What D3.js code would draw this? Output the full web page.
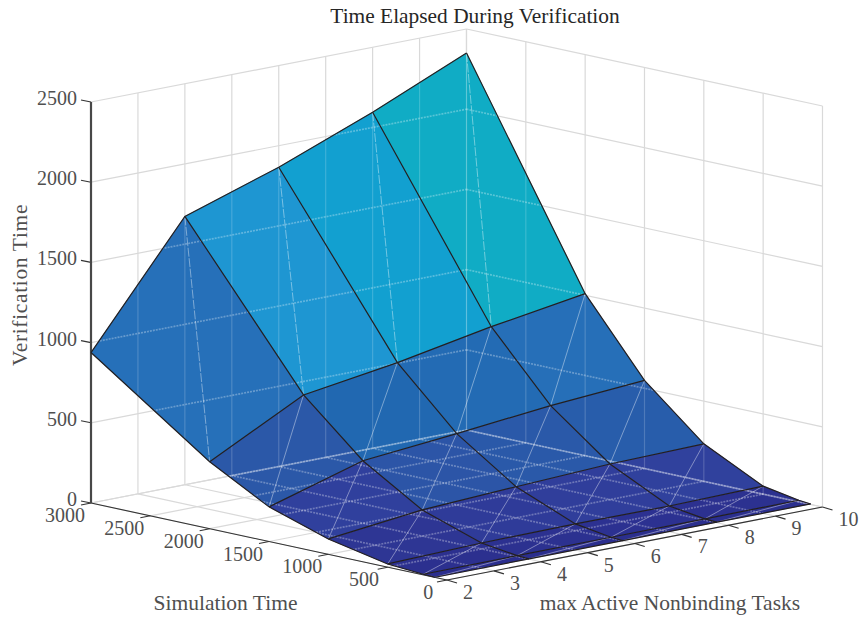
<!DOCTYPE html>
<html><head><meta charset="utf-8">
<script src="https://cdn.jsdelivr.net/npm/d3@7"></script>
<style>html,body{margin:0;background:#fff}svg{display:block}text{font-family:"Liberation Serif",serif}</style>
</head><body><div id="c"></div>
<script>
const tasks=[2,4,6,8,10];
const simTimes=[3000,2000,1500,1000,500,200,100];
const at3000=[938,1673,1866,2095,2350];
const at2000=[417,720,808,918,1010];
const at1500=[216,390,445,506,549];
const at1000=[96,163,194,222,234];
const at500=[20,37,42,40,50];
const at200=[4,6,7,8,10];
const at100=[1,2,2,3,3];
const verificationTimes=[at3000,at2000,at1500,at1000,at500,at200,at100];
const taskTicks=[2,3,4,5,6,7,8,9,10];
const simTicks=[0,500,1000,1500,2000,2500,3000];
const timeTicks=[0,500,1000,1500,2000,2500];
const colorValues=[0,100,216,417,720,938,1673,1866,2095,2350];
const colorRange=["#2b2e8e","#2e3694","#30409d","#2b58a8","#2168b1","#2670b9","#1e96d2","#12a0d0","#10acc5","#10acc5"];

const W=860,H=617;
const svg=d3.select("#c").append("svg").attr("width",W).attr("height",H);
const tx=d3.scaleLinear([2,10],[0,375.5]), ty=d3.scaleLinear([2,10],[0,-73]);
const sx=d3.scaleLinear([0,3000],[447,91]), sy=d3.scaleLinear([0,3000],[580,503]);
const zy=d3.scaleLinear([0,2500],[0,-401]);
const color=d3.scaleLinear(colorValues,colorRange);
const P=(t,s,z)=>[tx(t)+sx(s), ty(t)+sy(s)+zy(z)];
const seg=(g,a,b)=>g.append("line").attr("x1",a[0]).attr("y1",a[1]).attr("x2",b[0]).attr("y2",b[1]);

const gridLines=[];
taskTicks.forEach(t=>{
  gridLines.push({a:P(t,3000,0),b:P(t,3000,2500),k:"v"});
  gridLines.push({a:P(t,0,0),b:P(t,3000,0),k:"f"});
});
simTicks.forEach(s=>{
  gridLines.push({a:P(10,s,0),b:P(10,s,2500),k:"v"});
  gridLines.push({a:P(2,s,0),b:P(10,s,0),k:"f"});
});
timeTicks.forEach(z=>{
  const k=z===0?"b":"h";
  gridLines.push({a:P(2,3000,z),b:P(10,3000,z),k});
  gridLines.push({a:P(10,3000,z),b:P(10,0,z),k});
});
const gBack=svg.append("g").attr("stroke","#d9d9d9").attr("stroke-width",1.2);
gridLines.forEach(l=>seg(gBack,l.a,l.b));

const ax=svg.append("g").attr("stroke","#333").attr("stroke-width",1.1);
seg(ax,P(2,3000,0),P(2,0,0));
seg(ax,P(2,0,0),P(10,0,0));
const lab=svg.append("g").attr("fill","#4f4f4f").attr("font-size",20);
simTicks.forEach(s=>{
  const p=P(2,s,0);
  seg(ax,p,[p[0]-10,p[1]+2]);
  const str=String(s);
  lab.append("text").attr("x",p[0]-26+(4-str.length)*2.4).attr("y",p[1]+19).attr("text-anchor","middle").text(str);
});
taskTicks.forEach(t=>{
  const p=P(t,0,0);
  seg(ax,p,[p[0]+10,p[1]+3]);
  lab.append("text").attr("x",p[0]+16).attr("y",p[1]+19).text(t);
});
timeTicks.forEach(z=>{
  const p=P(2,3000,z);
  seg(ax,p,[p[0]-10,p[1]-2]);
  lab.append("text").attr("x",p[0]-14).attr("y",p[1]+3).attr("text-anchor","end").text(z);
});
svg.append("g").attr("stroke","#484848").attr("stroke-width",2.2).call(g=>seg(g,P(2,3000,0),P(2,3000,2500)));

const cells=[];
for(let j=0;j<simTimes.length-1;j++) for(let i=tasks.length-2;i>=0;i--){
  cells.push({i,j,z:verificationTimes[j][i]});
}
const corners=c=>[
  P(tasks[c.i],simTimes[c.j],verificationTimes[c.j][c.i]),
  P(tasks[c.i+1],simTimes[c.j],verificationTimes[c.j][c.i+1]),
  P(tasks[c.i+1],simTimes[c.j+1],verificationTimes[c.j+1][c.i+1]),
  P(tasks[c.i],simTimes[c.j+1],verificationTimes[c.j+1][c.i])];
const pts=a=>a.map(p=>p.join(",")).join(" ");
const clip=svg.append("clipPath").attr("id","surf");
cells.forEach(c=>clip.append("polygon").attr("points",pts(corners(c))));

svg.append("g").selectAll("polygon").data(cells).join("polygon")
  .attr("points",c=>pts(corners(c))).attr("fill",c=>color(c.z))
  .attr("stroke",c=>color(c.z)).attr("stroke-width",.4);

const through=svg.append("g").attr("clip-path","url(#surf)").attr("stroke","#fff");
gridLines.forEach(l=>{
  const n=seg(through,l.a,l.b);
  if(l.k==="v") n.attr("stroke-opacity",.18).attr("stroke-width",1.2);
  if(l.k==="b") n.attr("stroke-opacity",.3).attr("stroke-width",1.6);
  if(l.k==="h"||l.k==="f") n.attr("stroke-opacity",.3).attr("stroke-width",1.7).attr("stroke-dasharray","2 1");
});
const seams=svg.append("g").attr("stroke","#fff").attr("stroke-width",.5).attr("stroke-opacity",.8);
cells.forEach(c=>{const q=corners(c);const n=seg(seams,q[1],q[3]);if(c.j===0)n.attr("stroke-dasharray","9 1.5");});
const mesh=svg.append("g").attr("fill","none").attr("stroke","#231f20").attr("stroke-width",1.2);
const line=d3.line();
verificationTimes.forEach((row,j)=>mesh.append("path").attr("d",line(tasks.map((t,i)=>P(t,simTimes[j],row[i])))));
tasks.forEach((t,i)=>mesh.append("path").attr("d",line(simTimes.map((s,j)=>P(t,s,verificationTimes[j][i])))));

svg.append("text").attr("x",475).attr("y",23).attr("text-anchor","middle").attr("font-size",21.4).attr("fill","#262626").text("Time Elapsed During Verification");
lab.append("text").attr("x",225.5).attr("y",610).attr("text-anchor","middle").attr("font-size",21.5).text("Simulation Time");
lab.append("text").attr("x",670).attr("y",610).attr("text-anchor","middle").attr("font-size",21.5).text("max Active Nonbinding Tasks");
lab.append("text").attr("transform","translate(27,285) rotate(-90)").attr("text-anchor","middle").attr("font-size",21.5).attr("letter-spacing",0.65).text("Verification Time");
</script></body></html>
